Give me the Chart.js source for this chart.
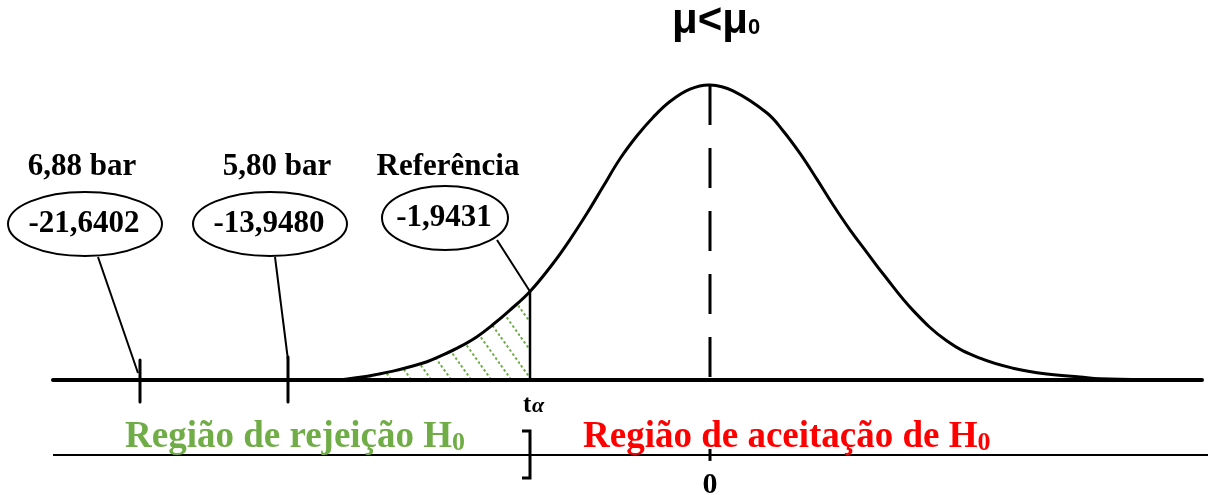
<!DOCTYPE html>
<html>
<head>
<meta charset="utf-8">
<script src="https://cdn.jsdelivr.net/npm/chart.js@4.4.0/dist/chart.umd.min.js"></script>
<style>
body { margin: 0; background: #fff; }
#wrap { width: 1208px; height: 495px; position: relative; }
</style>
</head>
<body>
<div id="wrap"><canvas id="chart_canvas"></canvas></div>
<script>
// bell curve: x in std units (0 = mean), y relative to the peak
const curveX = [-3.70, -3.50, -3.33, -3.17, -3.00, -2.83, -2.67, -2.50, -2.33, -2.17, -2.00, -1.80,
	-1.57, -1.40, -1.23, -1.07, -0.90, -0.73, -0.57, -0.40, -0.20, 0.00, 0.23, 0.57, 0.73, 0.90,
	1.07, 1.23, 1.40, 1.57, 1.73, 2.03, 2.37, 2.70, 3.03, 3.37, 3.70, 3.90, 4.60];
const curveY = [0.000, 0.009, 0.019, 0.030, 0.045, 0.062, 0.085, 0.113, 0.147, 0.188, 0.237, 0.300,
	0.395, 0.476, 0.565, 0.655, 0.750, 0.828, 0.890, 0.944, 0.986, 1.000, 0.980, 0.905, 0.845, 0.768,
	0.680, 0.594, 0.509, 0.432, 0.360, 0.236, 0.132, 0.074, 0.040, 0.020, 0.010, 0.004, 0.000];

// marked t values on the axis (6,88 bar, 5,80 bar, reference = t alpha)
const tickValues = [-5.70, -4.22, -1.80];
const pressureLabels = ['6,88 bar', '5,80 bar', 'Referência'];
const statLabels = ['-21,6402', '-13,9480', '-1,9431'];
const meanValue = 0;
const meanLabel = '0';
const alphaLabel = ['t', 'α'];
const titleLabel = ['μ<μ', '0'];
const regionLabels = ['Região de rejeição H', 'Região de aceitação de H'];

const axisX = [-6.57, 4.92];
const regionLineX = [-6.57, 4.98];
const regionLineY = -0.254;

const alphaIdx = curveX.indexOf(tickValues[2]);

function makeHatch() {
	const c = document.createElement('canvas');
	c.width = 20;
	c.height = 28;
	const g = c.getContext('2d');
	g.strokeStyle = '#70AD47';
	g.lineWidth = 2;
	g.setLineDash([2.5, 2.5]);
	g.beginPath();
	g.moveTo(-2, -2.8);
	g.lineTo(22, 30.8);
	g.stroke();
	return g.createPattern(c, 'repeat');
}

const serif = '"Liberation Serif", "Times New Roman", serif';

const overlay = {
	id: 'overlay',
	afterDatasetsDraw(chart) {
		const ctx = chart.ctx;
		const xs = chart.scales.x, ys = chart.scales.y;
		const base = ys.getPixelForValue(0);
		ctx.save();
		ctx.strokeStyle = '#000';
		ctx.lineCap = 'butt';

		// dashed line at the mean
		const mx = xs.getPixelForValue(meanValue);
		ctx.lineWidth = 3;
		ctx.setLineDash([40, 23]);
		ctx.beginPath();
		ctx.moveTo(mx, ys.getPixelForValue(curveY[curveX.indexOf(meanValue)]));
		ctx.lineTo(mx, base);
		ctx.stroke();
		ctx.setLineDash([]);

		// t alpha vertical
		const ax = xs.getPixelForValue(tickValues[2]);
		const ay = ys.getPixelForValue(curveY[alphaIdx]);
		ctx.lineWidth = 2.5;
		ctx.beginPath();
		ctx.moveTo(ax, ay);
		ctx.lineTo(ax, base);
		ctx.stroke();

		// tick marks for the two pressures
		ctx.lineWidth = 3;
		ctx.lineCap = 'round';
		[[tickValues[0], 360], [tickValues[1], 357]].forEach(([v, top]) => {
			const px = xs.getPixelForValue(v);
			ctx.beginPath();
			ctx.moveTo(px, top);
			ctx.lineTo(px, base + 22);
			ctx.stroke();
		});

		// ellipses, leaders and labels
		const boxes = [
			{ cx: 85, cy: 224, rx: 77, ry: 32, sx: 98, sy: 257, ey: 373 },
			{ cx: 270, cy: 224, rx: 77, ry: 32, sx: 275, sy: 257, ey: 360 },
			{ cx: 445, cy: 218, rx: 63, ry: 32, sx: 497, sy: 240, ey: ay }
		];
		ctx.lineCap = 'butt';
		boxes.forEach((b, i) => {
			ctx.lineWidth = 2;
			ctx.beginPath();
			ctx.ellipse(b.cx, b.cy, b.rx, b.ry, 0, 0, Math.PI * 2);
			ctx.stroke();
			ctx.beginPath();
			ctx.moveTo(b.sx, b.sy);
			ctx.lineTo(xs.getPixelForValue(tickValues[i]) - (i == 0 ? 2 : 0), b.ey);
			ctx.stroke();

			ctx.fillStyle = '#000';
			ctx.textAlign = 'center';
			ctx.textBaseline = 'alphabetic';
			ctx.font = 'bold 31px ' + serif;
			ctx.fillText(statLabels[i], b.cx - 1, b.cy + 8);
			ctx.fillText(pressureLabels[i], [82, 277, 448][i], 175);
		});

		// t alpha label
		ctx.textAlign = 'left';
		ctx.font = 'bold 25px ' + serif;
		ctx.fillText(alphaLabel[0], 523, 412);
		ctx.font = 'bold italic 22px ' + serif;
		ctx.fillText(alphaLabel[1], 532, 412);

		// bracket at t alpha on the region line
		ctx.lineWidth = 3;
		ctx.beginPath();
		ctx.moveTo(522, 431);
		ctx.lineTo(ax, 431);
		ctx.lineTo(ax, 478);
		ctx.lineTo(522, 478);
		ctx.stroke();

		// mean tick on the region line and its label
		const ry = ys.getPixelForValue(regionLineY);
		ctx.beginPath();
		ctx.moveTo(mx, ry - 6);
		ctx.lineTo(mx, ry + 6);
		ctx.stroke();
		ctx.textAlign = 'center';
		ctx.font = 'bold 30px ' + serif;
		ctx.fillText(meanLabel, mx, 493);

		// region labels
		const drawSub = (txt, x, y, color) => {
			ctx.fillStyle = color;
			ctx.textAlign = 'left';
			ctx.font = 'bold 37px ' + serif;
			ctx.fillText(txt, x, y);
			const w = ctx.measureText(txt).width;
			ctx.font = 'bold 26px ' + serif;
			ctx.fillText('0', x + w, y + 3);
		};
		drawSub(regionLabels[0], 125, 447, '#70AD47');
		drawSub(regionLabels[1], 583, 447, '#FF0000');

		// title
		ctx.fillStyle = '#000';
		ctx.textAlign = 'left';
		ctx.font = 'bold 42px "Liberation Sans", Arial, sans-serif';
		ctx.fillText(titleLabel[0], 672, 33);
		const tw = ctx.measureText(titleLabel[0]).width;
		ctx.font = 'bold 22px "Liberation Sans", Arial, sans-serif';
		ctx.fillText(titleLabel[1], 672 + tw, 34);

		ctx.restore();
	}
};

const ctx = document.getElementById('chart_canvas').getContext('2d');
const bell_chart = new Chart(ctx, {
	type: 'line',
	data: {
		datasets: [{
			label: 'curve',
			data: curveX.map((x, i) => ({ x: x, y: curveY[i] })),
			borderColor: '#000',
			borderWidth: 3,
			pointRadius: 0,
			tension: 0.4,
			fill: false
		}, {
			label: 'axis',
			data: axisX.map(x => ({ x: x, y: 0 })),
			borderColor: '#000',
			borderWidth: 4,
			borderCapStyle: 'round',
			pointRadius: 0,
			fill: false
		}, {
			label: 'region line',
			data: regionLineX.map(x => ({ x: x, y: regionLineY })),
			borderColor: '#000',
			borderWidth: 2,
			pointRadius: 0,
			fill: false
		}, {
			label: 'rejection area',
			data: curveX.slice(0, alphaIdx + 1).map((x, i) => ({ x: x, y: curveY[i] })),
			borderWidth: 0,
			borderColor: 'rgba(0,0,0,0)',
			backgroundColor: makeHatch(),
			pointRadius: 0,
			tension: 0.4,
			fill: 'origin'
		}]
	},
	options: {
		responsive: true,
		maintainAspectRatio: false,
		animation: false,
		layout: { padding: 0 },
		plugins: { legend: { display: false }, tooltip: { enabled: false } },
		scales: {
			x: { type: 'linear', min: -7.10, max: 4.98, display: false },
			y: { type: 'linear', min: -0.3898, max: 1.2881, display: false }
		}
	},
	plugins: [overlay]
});
</script>
</body>
</html>
